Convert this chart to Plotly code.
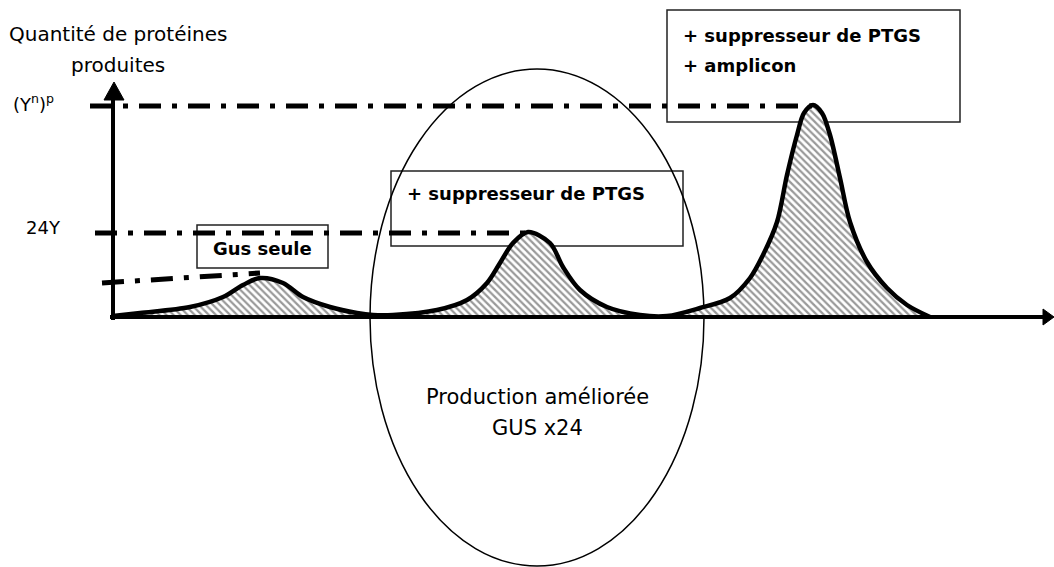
import plotly.graph_objects as go

# ---- data (x: position along time axis, h: protein quantity above baseline) ----
curve_x = [113, 140, 190, 223, 243, 260, 283, 303, 330, 357, 373, 393, 437, 467, 487, 500, 513, 528,
           550, 563, 580, 607, 640, 667, 700, 730, 750, 763, 777, 787, 797, 804, 813, 822, 830, 840,
           850, 867, 887, 907, 930]
curve_h = [1, 4, 10, 20, 32, 39, 34, 20, 10, 4, 2, 2, 7, 17, 34, 54, 74, 85,
           74, 50, 27, 10, 2, 1, 9, 19, 39, 62, 95, 142, 182, 204, 212, 204, 182, 139,
           95, 55, 29, 12, 0]

level_names = ["(Y<sup>n</sup>)<sup>p</sup>", "24Y"]
level_values = [211, 84]
level_x_end = [812, 525]
level_x_start = [90, 95]

gus_line_x = [102, 260]
gus_line_h = [34, 44]

box_x0 = [197, 391, 667]
box_x1 = [328, 683, 960]
box_y0 = [49, 71, 195]
box_y1 = [92, 146, 307]

ellipse_x = [370, 704]
ellipse_y = [-249, 248]

FONT = "DejaVu Sans"
DASH = "22px,11px,5px,11px"

fig = go.Figure()

# hatched curve
fig.add_trace(go.Scatter(
    x=curve_x, y=curve_h, mode="lines", line=dict(color="black", width=4.5, shape="spline", smoothing=0.9),
    fill="tozeroy", fillcolor="white",
    fillpattern=dict(shape="\\", size=5, solidity=0.45, fgcolor="#333", bgcolor="white"),
    hoverinfo="skip", showlegend=False))

# dash-dot level lines
for xs, xe, v in zip(level_x_start, level_x_end, level_values):
    fig.add_trace(go.Scatter(x=[xs, xe], y=[v, v], mode="lines",
                             line=dict(color="black", width=5, dash=DASH),
                             hoverinfo="skip", showlegend=False))
fig.add_trace(go.Scatter(x=gus_line_x, y=gus_line_h, mode="lines",
                         line=dict(color="black", width=5, dash=DASH),
                         hoverinfo="skip", showlegend=False))

# axes as arrows
fig.add_trace(go.Scatter(x=[113, 113], y=[-3, 218], mode="lines",
                         line=dict(color="black", width=4), hoverinfo="skip", showlegend=False))
fig.add_trace(go.Scatter(x=[104, 114, 124, 104], y=[217, 235, 217, 217], mode="lines", fill="toself",
                         fillcolor="black", line=dict(color="black", width=1),
                         hoverinfo="skip", showlegend=False))
fig.add_trace(go.Scatter(x=[110, 1046], y=[0, 0], mode="lines",
                         line=dict(color="black", width=4), hoverinfo="skip", showlegend=False))
fig.add_trace(go.Scatter(x=[1043, 1054, 1043, 1043], y=[8, 0, -8, 8], mode="lines", fill="toself",
                         fillcolor="black", line=dict(color="black", width=1),
                         hoverinfo="skip", showlegend=False))

# boxes
for x0, x1, y0, y1 in zip(box_x0, box_x1, box_y0, box_y1):
    fig.add_shape(type="rect", x0=x0, x1=x1, y0=y0, y1=y1, xref="x", yref="y",
                  line=dict(color="#222", width=1.5), fillcolor="rgba(0,0,0,0)", layer="below")

fig.add_shape(type="circle", x0=ellipse_x[0], x1=ellipse_x[1], y0=ellipse_y[0], y1=ellipse_y[1],
              xref="x", yref="y", line=dict(color="black", width=1.5),
              fillcolor="rgba(0,0,0,0)", layer="below")

ann = []
ann.append(dict(x=262, y=69, text="<b>Gus seule</b>", xanchor="center", yanchor="middle",
                font=dict(family=FONT, size=18, color="black")))
ann.append(dict(x=405, y=124, text="<b>+ suppresseur de PTGS</b>", xanchor="left", yanchor="middle",
                font=dict(family=FONT, size=18, color="black")))
ann.append(dict(x=681, y=282, text="<b>+ suppresseur de PTGS</b>", xanchor="left", yanchor="middle",
                font=dict(family=FONT, size=18, color="black")))
ann.append(dict(x=681, y=252, text="<b>+ amplicon</b>", xanchor="left", yanchor="middle",
                font=dict(family=FONT, size=18, color="black")))
ann.append(dict(x=7, y=283, text="Quantité de protéines", xanchor="left", yanchor="middle",
                font=dict(family=FONT, size=20, color="black")))
ann.append(dict(x=118, y=252, text="produites", xanchor="center", yanchor="middle",
                font=dict(family=FONT, size=20, color="black")))
ann.append(dict(x=11, y=level_values[0] + 3, text=level_names[0], xanchor="left", yanchor="middle",
                font=dict(family=FONT, size=18, color="black")))
ann.append(dict(x=24, y=level_values[1] + 6, text=level_names[1], xanchor="left", yanchor="middle",
                font=dict(family=FONT, size=18, color="black")))
ann.append(dict(x=537, y=-80, text="Production améliorée", xanchor="center", yanchor="middle",
                font=dict(family=FONT, size=21, color="black")))
ann.append(dict(x=537, y=-111, text="GUS x24", xanchor="center", yanchor="middle",
                font=dict(family=FONT, size=21, color="black")))
for a in ann:
    a.update(xref="x", yref="y", showarrow=False)

fig.update_layout(
    width=1054, height=567, margin=dict(l=0, r=0, t=0, b=0),
    paper_bgcolor="white", plot_bgcolor="white", annotations=ann,
    xaxis=dict(range=[0, 1054], visible=False, fixedrange=True),
    yaxis=dict(range=[-250, 317], visible=False, fixedrange=True),
)

fig.write_html("out.html", config={"displayModeBar": False},
               post_script="document.body.style.margin='0';document.body.style.overflow='hidden';")
